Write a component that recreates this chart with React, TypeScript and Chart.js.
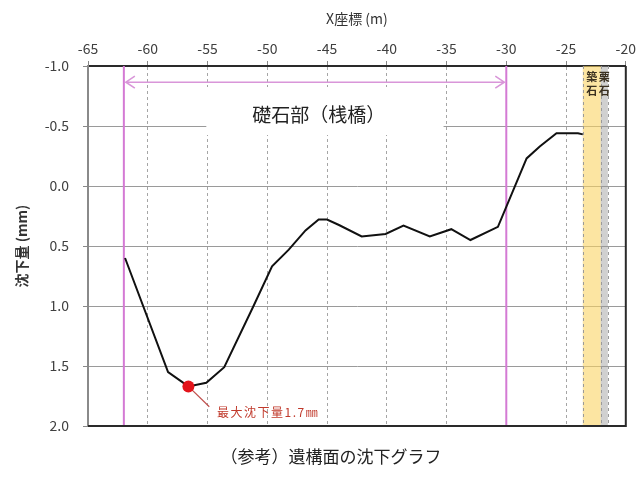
import React, { useEffect, useRef } from "react";
import { Chart, registerables } from "chart.js";

Chart.register(...registerables);

const FONT = '"Noto Sans CJK JP", "Noto Sans", sans-serif';

// ---- data ----
const xPositions = [-61.9, -58.3, -56.6, -55.1, -53.6, -51.2, -49.6, -48.2, -46.8, -45.7, -45.0, -44.0, -42.1, -40.1, -38.6, -36.4, -34.6, -33.0, -30.7, -28.3, -27.2, -25.8, -24.0, -23.6];
const settlement = [0.6, 1.55, 1.67, 1.64, 1.51, 1.01, 0.67, 0.53, 0.37, 0.28, 0.28, 0.325, 0.42, 0.4, 0.33, 0.42, 0.36, 0.45, 0.34, -0.23, -0.33, -0.44, -0.44, -0.43];

const maxPointX = [-56.6];
const maxPointY = [1.67];
const maxLabel = "最大沈下量1.7㎜";
const maxLabelAt = [-54.2, 1.89];
const maxLeaderEnd = [-54.85, 1.84];

const xAxisTitle = "X座標 (m)";
const yAxisTitle = "沈下量 (mm)";
const xMin = -65, xMax = -20, xStep = 5;
const yMin = -1, yMax = 2, yStep = 0.5;

const sectionRange = [-62, -30];
const arrowLevel = -0.865;
const sectionLabel = "礎石部（桟橋）";
const sectionLabelAt = [-45.7, -0.59];
const sectionBoxX = [-55.1, -35.25];
const sectionBoxY = [-0.825, -0.425];

const bandStarts = [-23.6, -22.1];
const bandEnds = [-22.1, -21.5];
const bandLabels = ["築石", "栗石"];

const caption = "（参考）遺構面の沈下グラフ";

const BAND_COLORS = ["rgba(250, 212, 100, 0.6)", "rgba(150, 150, 150, 0.45)"];

const overlay = {
  id: "overlay",
  beforeDatasetsDraw(chart: any) {
    const { ctx, chartArea: a, scales } = chart;
    const x = scales.x, y = scales.y;
    ctx.save();
    // bands
    bandStarts.forEach((s, i) => {
      const x0 = x.getPixelForValue(s);
      const x1 = x.getPixelForValue(bandEnds[i]);
      ctx.fillStyle = BAND_COLORS[i];
      ctx.fillRect(x0, a.top, x1 - x0, a.bottom - a.top);
    });
    ctx.strokeStyle = "#9a9a9a";
    ctx.lineWidth = 1;
    ctx.setLineDash([3, 3]);
    [bandStarts[0], bandEnds[0], bandEnds[1]].forEach((v) => {
      const px = Math.round(x.getPixelForValue(v)) + 0.5;
      ctx.beginPath();
      ctx.moveTo(px, a.top);
      ctx.lineTo(px, a.bottom);
      ctx.stroke();
    });
    ctx.setLineDash([]);

    // white label box
    const bx0 = x.getPixelForValue(sectionBoxX[0]);
    const bx1 = x.getPixelForValue(sectionBoxX[1]);
    const by0 = y.getPixelForValue(sectionBoxY[0]);
    const by1 = y.getPixelForValue(sectionBoxY[1]);
    ctx.fillStyle = "#ffffff";
    ctx.fillRect(bx0, by0, bx1 - bx0, by1 - by0);

    // magenta section lines
    ctx.strokeStyle = "#d47ad4";
    ctx.lineWidth = 2;
    sectionRange.forEach((v) => {
      const px = x.getPixelForValue(v);
      ctx.beginPath();
      ctx.moveTo(px, a.top);
      ctx.lineTo(px, a.bottom);
      ctx.stroke();
    });

    // double arrow
    const ya = y.getPixelForValue(arrowLevel);
    const xa = x.getPixelForValue(sectionRange[0]) + 2;
    const xb = x.getPixelForValue(sectionRange[1]) - 2;
    ctx.strokeStyle = "#d996d9";
    ctx.lineWidth = 1.6;
    ctx.beginPath();
    ctx.moveTo(xa, ya);
    ctx.lineTo(xb, ya);
    ctx.moveTo(xa + 9, ya - 6);
    ctx.lineTo(xa, ya);
    ctx.lineTo(xa + 9, ya + 6);
    ctx.moveTo(xb - 9, ya - 6);
    ctx.lineTo(xb, ya);
    ctx.lineTo(xb - 9, ya + 6);
    ctx.stroke();

    // leader line for max settlement
    ctx.strokeStyle = "#c0504d";
    ctx.lineWidth = 1.2;
    ctx.beginPath();
    ctx.moveTo(x.getPixelForValue(maxPointX[0]), y.getPixelForValue(maxPointY[0]));
    ctx.lineTo(x.getPixelForValue(maxLeaderEnd[0]), y.getPixelForValue(maxLeaderEnd[1]));
    ctx.stroke();
    ctx.restore();
  },
  afterDraw(chart: any) {
    const { ctx, chartArea: a, scales } = chart;
    const x = scales.x, y = scales.y;
    ctx.save();
    // frame: right + bottom
    ctx.strokeStyle = "#2a2a2a";
    ctx.lineWidth = 2;
    ctx.beginPath();
    ctx.moveTo(a.left, a.bottom);
    ctx.lineTo(a.right, a.bottom);
    ctx.lineTo(a.right, a.top);
    ctx.stroke();

    // section label
    ctx.fillStyle = "#222";
    ctx.font = `19px ${FONT}`;
    ctx.textAlign = "center";
    ctx.textBaseline = "middle";
    ctx.fillText(sectionLabel, x.getPixelForValue(sectionLabelAt[0]), y.getPixelForValue(sectionLabelAt[1]));

    // band labels (vertical)
    ctx.font = `bold 11px ${FONT}`;
    ctx.fillStyle = "#3a3020";
    bandLabels.forEach((lab, i) => {
      const cx = (x.getPixelForValue(bandStarts[i]) + x.getPixelForValue(bandEnds[i])) / 2;
      Array.from(lab).forEach((ch, j) => {
        ctx.fillText(ch, cx, a.top + 11 + j * 14);
      });
    });

    // max label
    ctx.font = `12px ${FONT}`;
    ctx.fillStyle = "#c0392b";
    ctx.textAlign = "left";
    try { (ctx as any).letterSpacing = "1.5px"; } catch (e) {}
    ctx.fillText(maxLabel, x.getPixelForValue(maxLabelAt[0]), y.getPixelForValue(maxLabelAt[1]));
    try { (ctx as any).letterSpacing = "0px"; } catch (e) {}

    // caption
    ctx.font = `17px ${FONT}`;
    ctx.fillStyle = "#222";
    ctx.textAlign = "center";
    ctx.fillText(caption, 331, 457);
    ctx.restore();
  },
};

export default function App() {
  const ref = useRef<HTMLCanvasElement | null>(null);
  useEffect(() => {
    if (!ref.current) return;
    const lineData = xPositions.map((v, i) => ({ x: v, y: settlement[i] }));
    const maxData = maxPointX.map((v, i) => ({ x: v, y: maxPointY[i] }));
    const chart = new Chart(ref.current, {
      type: "line",
      data: {
        datasets: [
          {
            data: maxData,
            showLine: false,
            pointRadius: 6,
            pointBackgroundColor: "#e3141b",
            pointBorderColor: "#e3141b",
            pointBorderWidth: 0,
          },
          {
            data: lineData,
            borderColor: "#111",
            borderWidth: 2,
            pointRadius: 0,
            tension: 0,
            fill: false,
          },
        ],
      },
      options: {
        responsive: false,
        animation: false,
        events: [],
        layout: { padding: { left: 0, top: 0, right: 12, bottom: 53 } },
        plugins: { legend: { display: false }, tooltip: { enabled: false } },
        scales: {
          x: {
            type: "linear",
            position: "top",
            min: xMin,
            max: xMax,
            afterFit: (s: any) => { s.height = 66; },
            ticks: {
              stepSize: xStep,
              autoSkip: false,
              maxRotation: 0,
              color: "#404040",
              padding: 4,
              font: { family: FONT, size: 14 },
            },
            grid: {
              color: (c: any) => (c.tick && (c.tick.value <= xMin || c.tick.value >= xMax) ? "rgba(0,0,0,0)" : "#a5a5a5"),
              tickColor: "#888",
              tickLength: 5,
              lineWidth: 1,
            },
            border: { display: true, color: "#2a2a2a", width: 2, dash: [3, 3] },
            title: {
              display: true,
              text: xAxisTitle,
              color: "#333",
              font: { family: FONT, size: 14 },
              padding: { top: 10, bottom: 0 },
            },
          },
          y: {
            type: "linear",
            reverse: true,
            min: yMin,
            max: yMax,
            afterFit: (s: any) => { s.width = 88; },
            ticks: {
              stepSize: yStep,
              color: "#404040",
              padding: 14,
              font: { family: FONT, size: 14 },
              callback: (v: any) => Number(v).toFixed(1),
            },
            grid: {
              color: "#9a9a9a",
              tickColor: "#888",
              tickLength: 5,
              lineWidth: 1,
            },
            border: { display: true, color: "#8a8a8a", width: 2 },
            title: {
              display: true,
              text: yAxisTitle,
              color: "#333",
              font: { family: FONT, size: 14, weight: "bold" },
              padding: { top: 13, bottom: 0 },
            },
          },
        },
      },
      plugins: [overlay],
    } as any);
    return () => chart.destroy();
  }, []);
  return (
    <div style={{ position: "fixed", left: 0, top: 0, width: 640, height: 479, background: "#fff" }}>
      <canvas ref={ref} width={640} height={479} style={{ display: "block" }} />
    </div>
  );
}
